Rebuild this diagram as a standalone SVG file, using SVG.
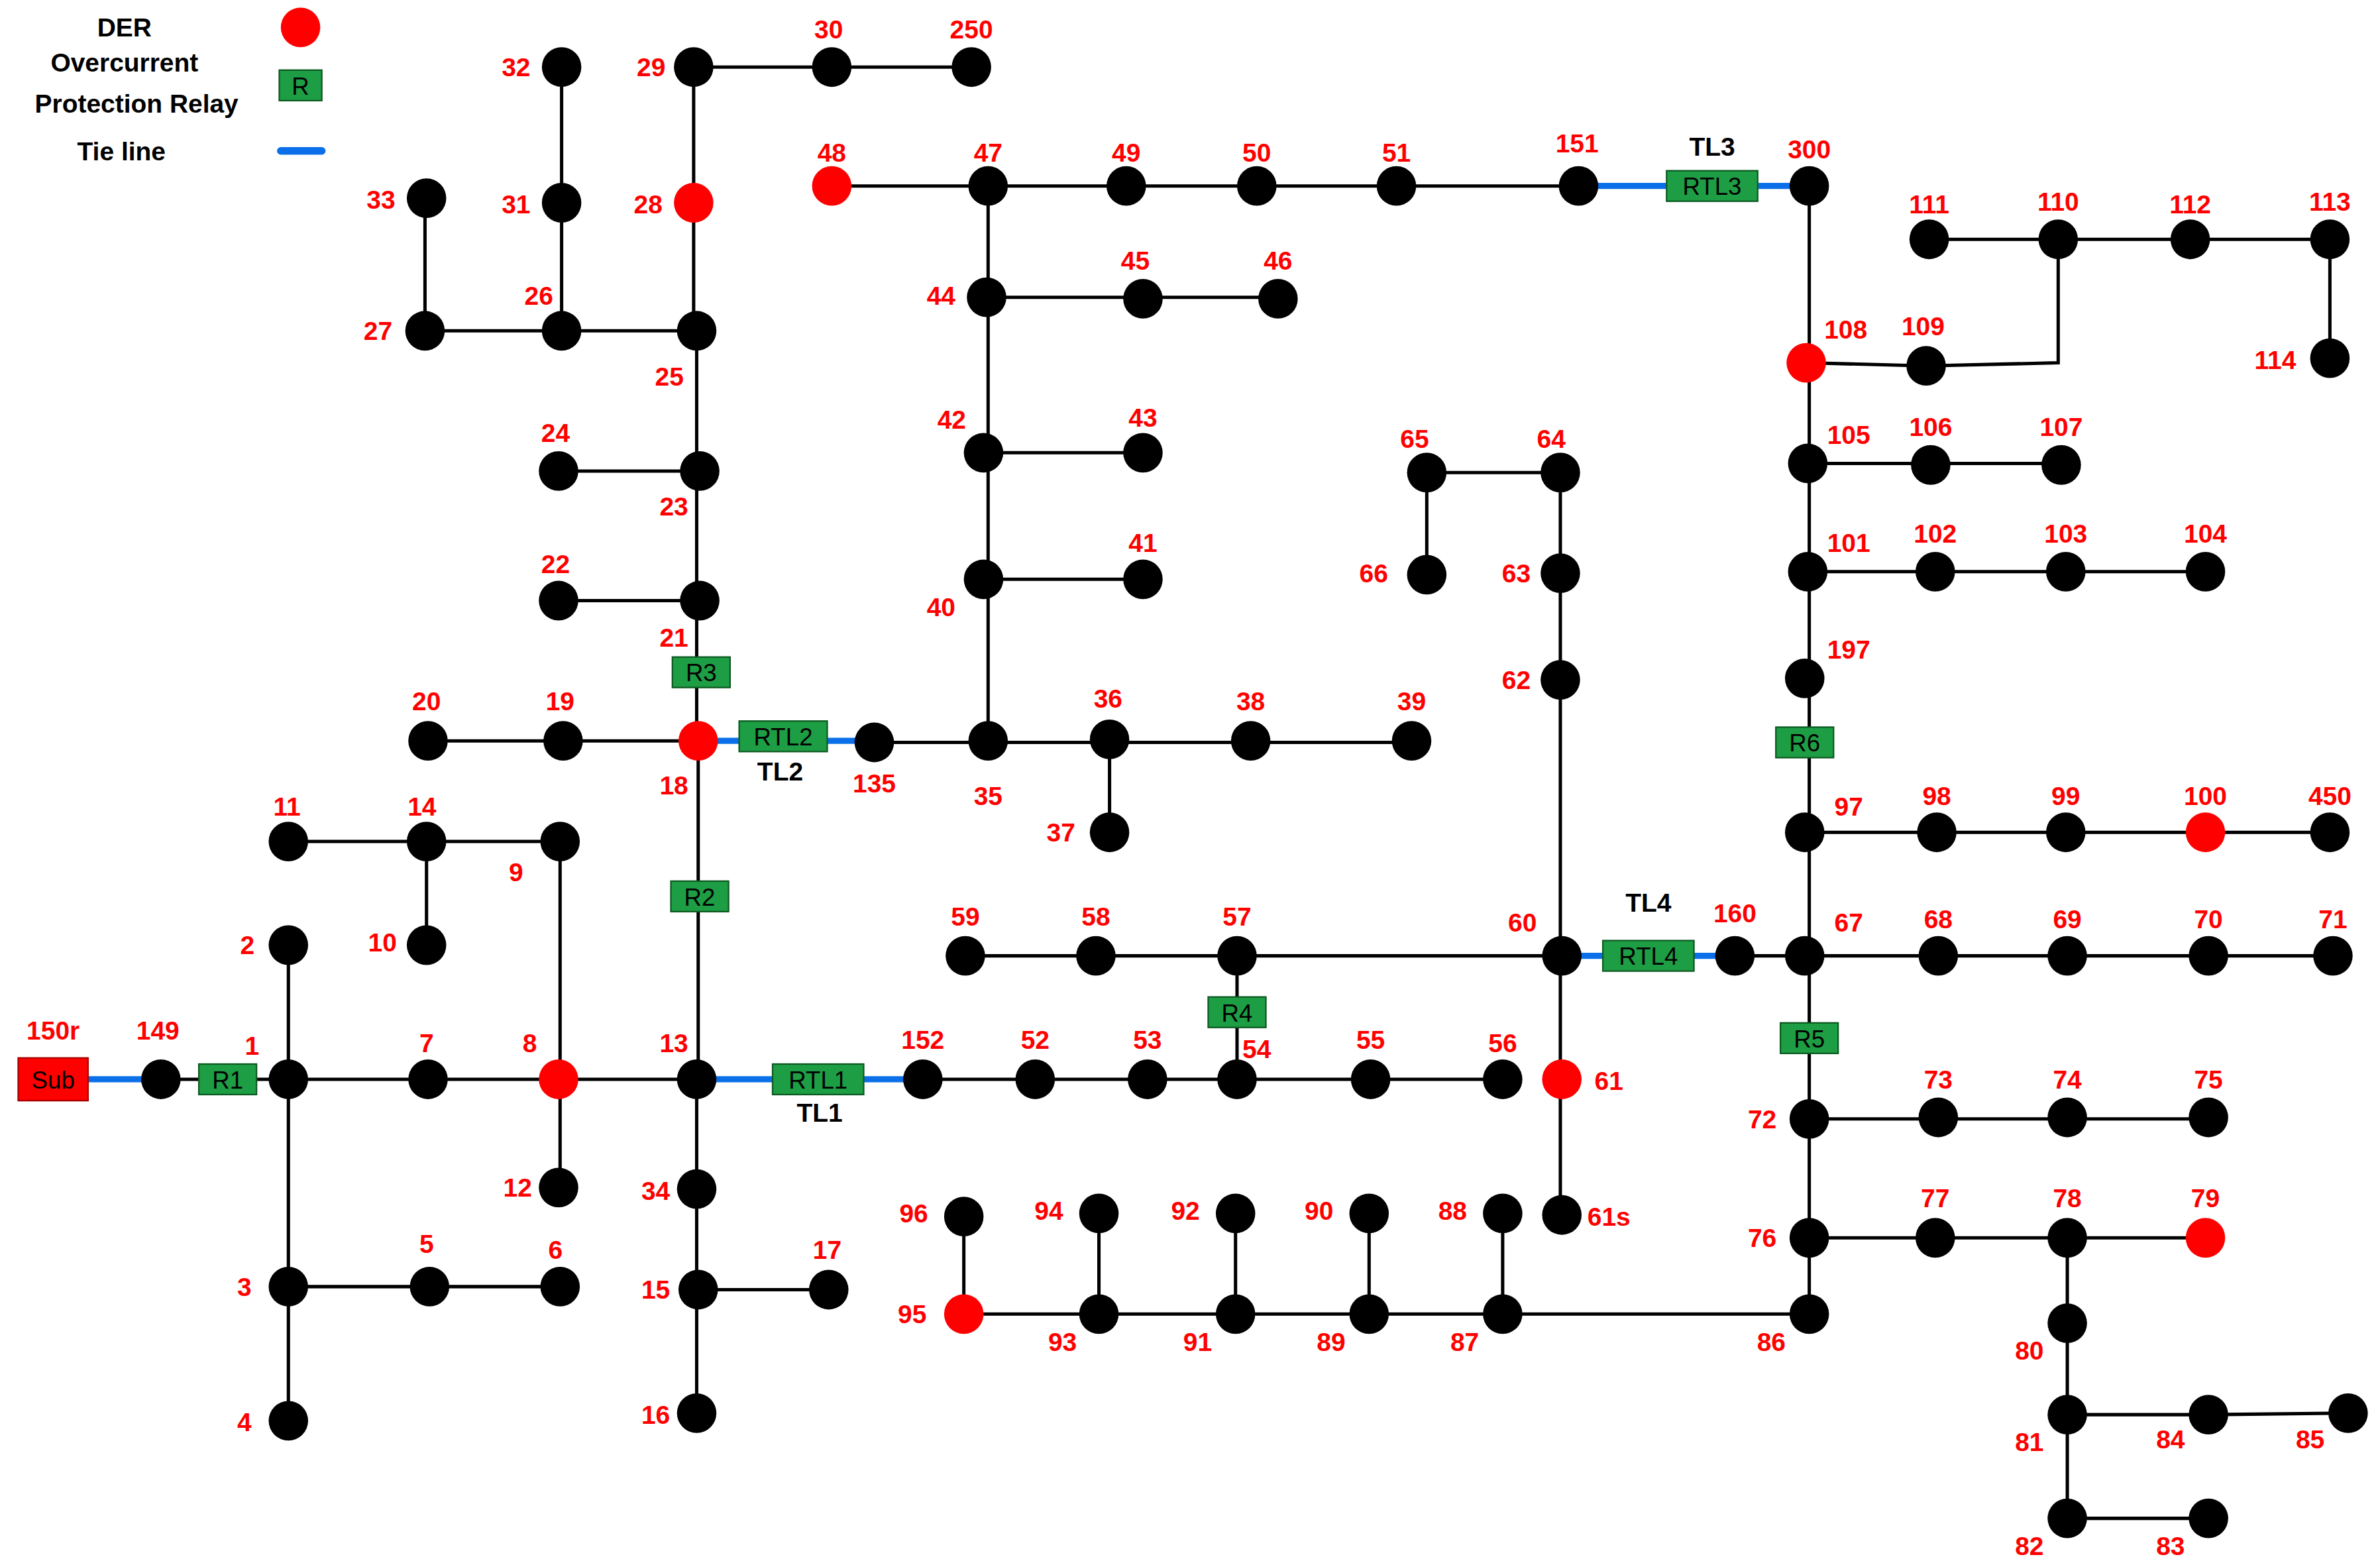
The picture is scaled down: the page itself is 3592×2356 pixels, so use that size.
<svg xmlns="http://www.w3.org/2000/svg" width="3592" height="2356" viewBox="0 0 3592 2356">
<style>
.e{stroke:#000;stroke-width:2.2;fill:none}
.t{stroke:#0a6fe8;stroke-width:4;fill:none}
.n{fill:#000}
.d{fill:#ff0000}
.l{font-family:"Liberation Sans",Arial,sans-serif;font-weight:bold;font-size:17px;fill:#ff0000;text-anchor:middle}
.k{font-family:"Liberation Sans",Arial,sans-serif;font-weight:bold;font-size:17px;fill:#000;text-anchor:middle}
.b{fill:#1e9e44;stroke:#0d5a22;stroke-width:1}
.bt{font-family:"Liberation Sans",Arial,sans-serif;font-size:16px;fill:#000;text-anchor:middle}
</style>
<rect width="3592" height="2356" fill="#fff"/>
<g transform="scale(2.2908 2.3008)">
<g id="legend">
<text class="k" x="82" y="24">DER</text>
<circle class="d" cx="198" cy="18" r="13"/>
<text class="k" x="82" y="47">Overcurrent</text>
<text class="k" x="90" y="74">Protection Relay</text>
<rect class="b" x="184" y="46" width="28" height="20"/>
<text class="bt" x="198" y="62">R</text>
<text class="k" x="80" y="105">Tie line</text>
<line x1="185" y1="99" x2="212" y2="99" stroke="#0a6fe8" stroke-width="5" stroke-linecap="round"/>
</g>
<g id="connectors">
<path class="e" d="M370 44V217M457 44H640M457 44V217M280 130V217H459V486M368 309H461M368 394H461M282 486H460V708M576 487H930M731 485V546M651 486V122M548 122H1040M650 195H842M648 297H753M648 380H753M1192 122V862M1190 238L1269 240L1356 238V157M1271 157H1535V235M1191 304H1358M1191 375H1453M1189 546H1535M1143 627H1537M636 627H1029M815 627V708M940 377V310H1028V797M106 708H459M190 620V932M190 844H369M190 552H369V779M281 552V620M459 708V927M460 846H546M608 708H990M1192 734H1455M1192 812H1453M1362 812V996H1455M1362 928L1455 928L1547 927M1192 862H635V798M724 862V796M814 862V796M902 862V796M990 862V796"/>
<path class="t" d="M34 708H106M459 708H608M460 486H576M1040 122H1192M1029 627H1143"/>
</g>
<g id="relays">
<rect class="b" x="12" y="694" width="46" height="28" fill="#ff0000" style="fill:#ff0000;stroke:#a00"/><text class="bt" x="35" y="714" font-size="18">Sub</text>
<rect class="b" x="131" y="698" width="38" height="20"/><text class="bt" x="150" y="714">R1</text>
<rect class="b" x="443" y="431" width="38" height="20"/><text class="bt" x="462" y="447">R3</text>
<rect class="b" x="442" y="578" width="38" height="20"/><text class="bt" x="461" y="594">R2</text>
<rect class="b" x="487" y="473" width="58" height="20"/><text class="bt" x="516" y="489">RTL2</text>
<rect class="b" x="509" y="698" width="60" height="20"/><text class="bt" x="539" y="714">RTL1</text>
<rect class="b" x="1098" y="112" width="60" height="20"/><text class="bt" x="1128" y="128">RTL3</text>
<rect class="b" x="1056" y="617" width="60" height="20"/><text class="bt" x="1086" y="633">RTL4</text>
<rect class="b" x="796" y="654" width="38" height="20"/><text class="bt" x="815" y="670">R4</text>
<rect class="b" x="1173" y="671" width="38" height="20"/><text class="bt" x="1192" y="687">R5</text>
<rect class="b" x="1170" y="477" width="38" height="20"/><text class="bt" x="1189" y="493">R6</text>
<text class="k" x="514" y="512">TL2</text>
<text class="k" x="540" y="736">TL1</text>
<text class="k" x="1128" y="102">TL3</text>
<text class="k" x="1086" y="598">TL4</text>
</g>
<g id="nodes">
<circle class="n" cx="370" cy="44" r="13"/><circle class="n" cx="457" cy="44" r="13"/><circle class="n" cx="548" cy="44" r="13"/><circle class="n" cx="640" cy="44" r="13"/>
<circle class="n" cx="281" cy="130" r="13"/><circle class="n" cx="370" cy="133" r="13"/><circle class="d" cx="457" cy="133" r="13"/>
<circle class="n" cx="280" cy="217" r="13"/><circle class="n" cx="370" cy="217" r="13"/><circle class="n" cx="459" cy="217" r="13"/>
<circle class="n" cx="368" cy="309" r="13"/><circle class="n" cx="461" cy="309" r="13"/><circle class="n" cx="368" cy="394" r="13"/><circle class="n" cx="461" cy="394" r="13"/>
<circle class="n" cx="282" cy="486" r="13"/><circle class="n" cx="371" cy="486" r="13"/><circle class="d" cx="460" cy="486" r="13"/><circle class="n" cx="576" cy="487" r="13"/><circle class="n" cx="651" cy="486" r="13"/><circle class="n" cx="731" cy="485" r="13"/><circle class="n" cx="824" cy="486" r="13"/><circle class="n" cx="930" cy="486" r="13"/><circle class="n" cx="731" cy="546" r="13"/>
<circle class="n" cx="190" cy="552" r="13"/><circle class="n" cx="281" cy="552" r="13"/><circle class="n" cx="369" cy="552" r="13"/><circle class="n" cx="281" cy="620" r="13"/><circle class="n" cx="190" cy="620" r="13"/>
<circle class="n" cx="106" cy="708" r="13"/><circle class="n" cx="190" cy="708" r="13"/><circle class="n" cx="282" cy="708" r="13"/><circle class="d" cx="368" cy="708" r="13"/><circle class="n" cx="459" cy="708" r="13"/><circle class="n" cx="608" cy="708" r="13"/><circle class="n" cx="682" cy="708" r="13"/><circle class="n" cx="756" cy="708" r="13"/><circle class="n" cx="815" cy="708" r="13"/><circle class="n" cx="903" cy="708" r="13"/><circle class="n" cx="990" cy="708" r="13"/><circle class="d" cx="1029" cy="708" r="13"/>
<circle class="n" cx="368" cy="779" r="13"/><circle class="n" cx="459" cy="780" r="13"/><circle class="n" cx="1029" cy="797" r="13"/>
<circle class="n" cx="190" cy="844" r="13"/><circle class="n" cx="283" cy="844" r="13"/><circle class="n" cx="369" cy="844" r="13"/><circle class="n" cx="460" cy="846" r="13"/><circle class="n" cx="546" cy="846" r="13"/><circle class="n" cx="190" cy="932" r="13"/><circle class="n" cx="459" cy="927" r="13"/>
<circle class="d" cx="548" cy="122" r="13"/><circle class="n" cx="651" cy="122" r="13"/><circle class="n" cx="742" cy="122" r="13"/><circle class="n" cx="828" cy="122" r="13"/><circle class="n" cx="920" cy="122" r="13"/><circle class="n" cx="1040" cy="122" r="13"/><circle class="n" cx="1192" cy="122" r="13"/>
<circle class="n" cx="650" cy="195" r="13"/><circle class="n" cx="753" cy="196" r="13"/><circle class="n" cx="842" cy="196" r="13"/><circle class="n" cx="648" cy="297" r="13"/><circle class="n" cx="753" cy="297" r="13"/><circle class="n" cx="648" cy="380" r="13"/><circle class="n" cx="753" cy="380" r="13"/>
<circle class="n" cx="940" cy="310" r="13"/><circle class="n" cx="1028" cy="310" r="13"/><circle class="n" cx="940" cy="377" r="13"/><circle class="n" cx="1028" cy="376" r="13"/><circle class="n" cx="1028" cy="446" r="13"/><circle class="n" cx="1029" cy="627" r="13"/>
<circle class="n" cx="636" cy="627" r="13"/><circle class="n" cx="722" cy="627" r="13"/><circle class="n" cx="815" cy="627" r="13"/>
<circle class="n" cx="1143" cy="627" r="13"/><circle class="n" cx="1189" cy="627" r="13"/><circle class="n" cx="1277" cy="627" r="13"/><circle class="n" cx="1362" cy="627" r="13"/><circle class="n" cx="1455" cy="627" r="13"/><circle class="n" cx="1537" cy="627" r="13"/>
<circle class="n" cx="1192" cy="734" r="13"/><circle class="n" cx="1277" cy="733" r="13"/><circle class="n" cx="1362" cy="733" r="13"/><circle class="n" cx="1455" cy="733" r="13"/>
<circle class="n" cx="1192" cy="812" r="13"/><circle class="n" cx="1275" cy="812" r="13"/><circle class="n" cx="1362" cy="812" r="13"/><circle class="d" cx="1453" cy="812" r="13"/>
<circle class="n" cx="1192" cy="862" r="13"/><circle class="n" cx="990" cy="862" r="13"/><circle class="n" cx="902" cy="862" r="13"/><circle class="n" cx="814" cy="862" r="13"/><circle class="n" cx="724" cy="862" r="13"/><circle class="d" cx="635" cy="862" r="13"/>
<circle class="n" cx="990" cy="796" r="13"/><circle class="n" cx="902" cy="796" r="13"/><circle class="n" cx="814" cy="796" r="13"/><circle class="n" cx="724" cy="796" r="13"/><circle class="n" cx="635" cy="798" r="13"/>
<circle class="n" cx="1362" cy="868" r="13"/><circle class="n" cx="1362" cy="928" r="13"/><circle class="n" cx="1455" cy="928" r="13"/><circle class="n" cx="1547" cy="927" r="13"/><circle class="n" cx="1362" cy="996" r="13"/><circle class="n" cx="1455" cy="996" r="13"/>
<circle class="n" cx="1271" cy="157" r="13"/><circle class="n" cx="1356" cy="157" r="13"/><circle class="n" cx="1443" cy="157" r="13"/><circle class="n" cx="1535" cy="157" r="13"/><circle class="n" cx="1535" cy="235" r="13"/>
<circle class="d" cx="1190" cy="238" r="13"/><circle class="n" cx="1269" cy="240" r="13"/>
<circle class="n" cx="1191" cy="304" r="13"/><circle class="n" cx="1272" cy="305" r="13"/><circle class="n" cx="1358" cy="305" r="13"/>
<circle class="n" cx="1191" cy="375" r="13"/><circle class="n" cx="1275" cy="375" r="13"/><circle class="n" cx="1361" cy="375" r="13"/><circle class="n" cx="1453" cy="375" r="13"/>
<circle class="n" cx="1189" cy="445" r="13"/><circle class="n" cx="1189" cy="546" r="13"/><circle class="n" cx="1276" cy="546" r="13"/><circle class="n" cx="1361" cy="546" r="13"/><circle class="d" cx="1453" cy="546" r="13"/><circle class="n" cx="1535" cy="546" r="13"/>
</g>
<g id="labels">
<text class="l" x="340" y="50">32</text><text class="l" x="429" y="50">29</text><text class="l" x="546" y="25">30</text><text class="l" x="640" y="25">250</text>
<text class="l" x="251" y="137">33</text><text class="l" x="340" y="140">31</text><text class="l" x="427" y="140">28</text><text class="l" x="249" y="223">27</text><text class="l" x="355" y="200">26</text><text class="l" x="441" y="253">25</text>
<text class="l" x="366" y="290">24</text><text class="l" x="444" y="338">23</text><text class="l" x="366" y="376">22</text><text class="l" x="444" y="424">21</text>
<text class="l" x="281" y="466">20</text><text class="l" x="369" y="466">19</text><text class="l" x="444" y="521">18</text><text class="l" x="576" y="520">135</text><text class="l" x="651" y="528">35</text><text class="l" x="730" y="464">36</text><text class="l" x="824" y="466">38</text><text class="l" x="930" y="466">39</text><text class="l" x="699" y="552">37</text>
<text class="l" x="189" y="535">11</text><text class="l" x="278" y="535">14</text><text class="l" x="340" y="578">9</text><text class="l" x="252" y="624">10</text><text class="l" x="163" y="626">2</text>
<text class="l" x="35" y="682">150r</text><text class="l" x="104" y="682">149</text><text class="l" x="166" y="692">1</text><text class="l" x="281" y="690">7</text><text class="l" x="349" y="690">8</text><text class="l" x="444" y="690">13</text>
<text class="l" x="608" y="688">152</text><text class="l" x="682" y="688">52</text><text class="l" x="756" y="688">53</text><text class="l" x="828" y="694">54</text><text class="l" x="903" y="688">55</text><text class="l" x="990" y="690">56</text><text class="l" x="1060" y="715">61</text>
<text class="l" x="341" y="785">12</text><text class="l" x="432" y="787">34</text><text class="l" x="1060" y="804">61s</text>
<text class="l" x="281" y="822">5</text><text class="l" x="366" y="826">6</text><text class="l" x="161" y="850">3</text><text class="l" x="432" y="852">15</text><text class="l" x="545" y="826">17</text><text class="l" x="161" y="939">4</text><text class="l" x="432" y="934">16</text>
<text class="l" x="548" y="106">48</text><text class="l" x="651" y="106">47</text><text class="l" x="742" y="106">49</text><text class="l" x="828" y="106">50</text><text class="l" x="920" y="106">51</text><text class="l" x="1039" y="100">151</text><text class="l" x="1192" y="104">300</text>
<text class="l" x="620" y="200">44</text><text class="l" x="748" y="177">45</text><text class="l" x="842" y="177">46</text><text class="l" x="627" y="281">42</text><text class="l" x="753" y="280">43</text><text class="l" x="753" y="362">41</text><text class="l" x="620" y="404">40</text>
<text class="l" x="932" y="294">65</text><text class="l" x="1022" y="294">64</text><text class="l" x="905" y="382">66</text><text class="l" x="999" y="382">63</text><text class="l" x="999" y="452">62</text><text class="l" x="1003" y="611">60</text>
<text class="l" x="636" y="607">59</text><text class="l" x="722" y="607">58</text><text class="l" x="815" y="607">57</text>
<text class="l" x="1143" y="605">160</text><text class="l" x="1218" y="611">67</text><text class="l" x="1277" y="609">68</text><text class="l" x="1362" y="609">69</text><text class="l" x="1455" y="609">70</text><text class="l" x="1537" y="609">71</text>
<text class="l" x="1161" y="740">72</text><text class="l" x="1277" y="714">73</text><text class="l" x="1362" y="714">74</text><text class="l" x="1455" y="714">75</text>
<text class="l" x="1161" y="818">76</text><text class="l" x="1275" y="792">77</text><text class="l" x="1362" y="792">78</text><text class="l" x="1453" y="792">79</text>
<text class="l" x="1167" y="886">86</text><text class="l" x="965" y="886">87</text><text class="l" x="877" y="886">89</text><text class="l" x="789" y="886">91</text><text class="l" x="700" y="886">93</text><text class="l" x="601" y="868">95</text>
<text class="l" x="957" y="800">88</text><text class="l" x="869" y="800">90</text><text class="l" x="781" y="800">92</text><text class="l" x="691" y="800">94</text><text class="l" x="602" y="802">96</text>
<text class="l" x="1337" y="892">80</text><text class="l" x="1337" y="952">81</text><text class="l" x="1430" y="950">84</text><text class="l" x="1522" y="950">85</text><text class="l" x="1337" y="1020">82</text><text class="l" x="1430" y="1020">83</text>
<text class="l" x="1271" y="140">111</text><text class="l" x="1356" y="138">110</text><text class="l" x="1443" y="140">112</text><text class="l" x="1535" y="138">113</text><text class="l" x="1499" y="242">114</text>
<text class="l" x="1216" y="222">108</text><text class="l" x="1267" y="220">109</text>
<text class="l" x="1218" y="291">105</text><text class="l" x="1272" y="286">106</text><text class="l" x="1358" y="286">107</text>
<text class="l" x="1218" y="362">101</text><text class="l" x="1275" y="356">102</text><text class="l" x="1361" y="356">103</text><text class="l" x="1453" y="356">104</text>
<text class="l" x="1218" y="432">197</text><text class="l" x="1218" y="535">97</text><text class="l" x="1276" y="528">98</text><text class="l" x="1361" y="528">99</text><text class="l" x="1453" y="528">100</text><text class="l" x="1535" y="528">450</text>
</g>
</g>
</svg>
